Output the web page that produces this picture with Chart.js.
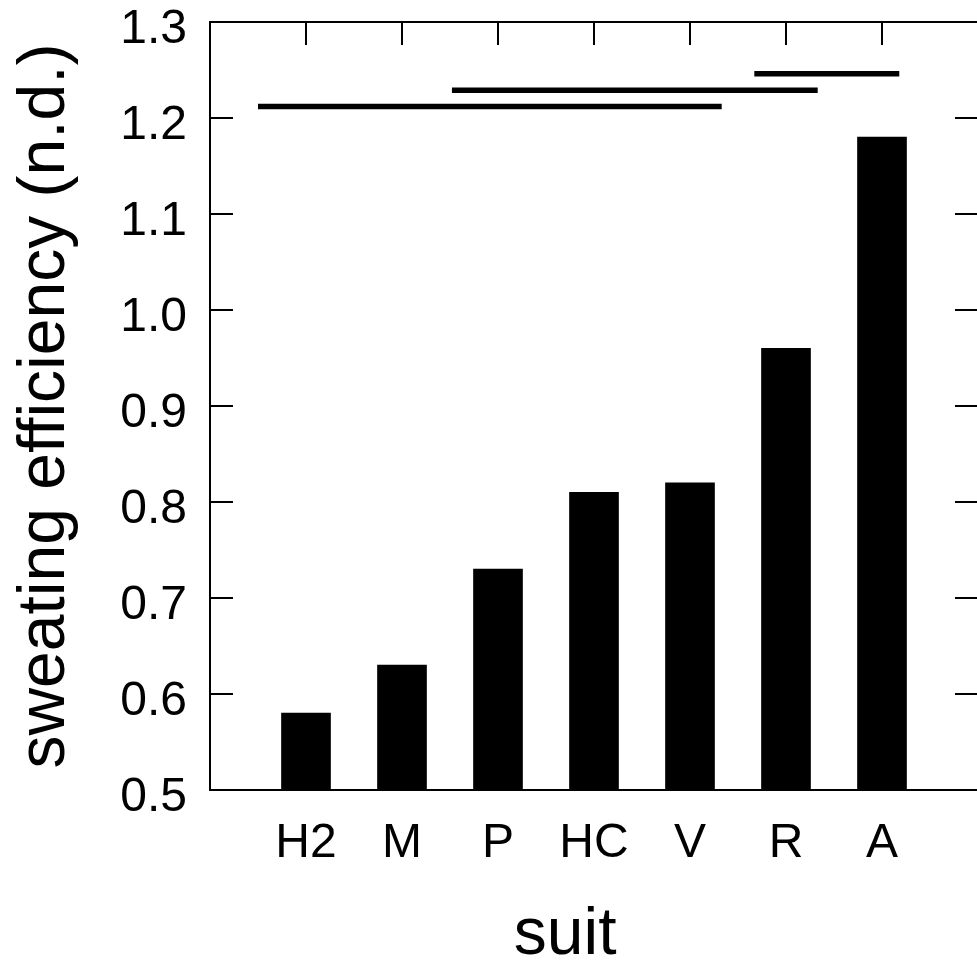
<!DOCTYPE html>
<html>
<head>
<meta charset="utf-8">
<script src="https://cdn.jsdelivr.net/npm/chart.js@4"></script>
<style>
  html, body { margin: 0; padding: 0; background: #fff; overflow: hidden; }
  #wrap { width: 1000px; height: 967px; }
</style>
</head>
<body>
<div id="wrap"><canvas id="myChart" width="1000" height="967"></canvas></div>
<script>
// datos
const categories = ['H2', 'M', 'P', 'HC', 'V', 'R', 'A'];
const efficiency = [0.58, 0.63, 0.73, 0.81, 0.82, 0.96, 1.18];
const yTicks = [0.5, 0.6, 0.7, 0.8, 0.9, 1.0, 1.1, 1.2, 1.3];

// barras de significancia (posicion en unidades de categoria)
const sigStart = [0.5, 2.52, 5.67];
const sigEnd = [5.33, 6.33, 7.18];
const sigLevel = [1.212, 1.229, 1.246];

const font = 'Liberation Sans, Arial, Helvetica, sans-serif';
const xTitle = 'suit';

// marco, ticks hacia adentro y titulo del eje x
const framePlugin = {
  id: 'frame',
  afterDraw(chart) {
    const ctx = chart.ctx;
    const a = chart.chartArea;
    const x = chart.scales.x;
    const y = chart.scales.y;
    const len = 23;
    ctx.save();
    ctx.strokeStyle = '#000';
    ctx.lineWidth = 2;
    ctx.strokeRect(a.left, a.top, a.right - a.left, a.bottom - a.top);
    ctx.beginPath();
    yTicks.forEach(v => {
      const py = y.getPixelForValue(v);
      ctx.moveTo(a.left, py);
      ctx.lineTo(a.left + len, py);
      ctx.moveTo(a.right, py);
      ctx.lineTo(a.right - len, py);
    });
    categories.forEach((c, i) => {
      const px = x.getPixelForValue(i + 1);
      ctx.moveTo(px, a.top);
      ctx.lineTo(px, a.top + len);
    });
    ctx.stroke();

    // el titulo del eje x esta corrido a la izquierda en el original
    ctx.fillStyle = '#000';
    ctx.font = '66px ' + font;
    ctx.textAlign = 'center';
    ctx.textBaseline = 'alphabetic';
    ctx.fillText(xTitle, x.getPixelForValue(3.7), 954);
    ctx.restore();
  }
};

const datasets = [{
  type: 'bar',
  data: categories.map((c, i) => ({ x: i + 1, y: efficiency[i] })),
  backgroundColor: '#000',
  borderWidth: 0,
  barThickness: 49
}];

sigLevel.forEach((lvl, i) => {
  datasets.push({
    type: 'line',
    data: [{ x: sigStart[i], y: lvl }, { x: sigEnd[i], y: lvl }],
    borderColor: '#000',
    borderWidth: 5.5,
    borderCapStyle: 'butt',
    pointRadius: 0
  });
});

new Chart(document.getElementById('myChart'), {
  type: 'bar',
  data: { datasets: datasets },
  plugins: [framePlugin],
  options: {
    responsive: false,
    animation: false,
    devicePixelRatio: 1,
    layout: { padding: { top: 22, right: 22, left: 0, bottom: 0 } },
    plugins: { legend: { display: false }, tooltip: { enabled: false } },
    scales: {
      x: {
        type: 'linear',
        min: 0,
        max: 8,
        offset: false,
        grid: { display: false },
        border: { display: false },
        afterBuildTicks: s => { s.ticks = categories.map((c, i) => ({ value: i + 1 })); },
        afterFit: s => {
          s.height = 177;
          s.paddingLeft = 0;
          s.paddingRight = 0;
        },
        ticks: {
          autoSkip: false,
          maxRotation: 0,
          padding: 17,
          color: '#000',
          font: { family: font, size: 48 },
          callback: v => categories[v - 1] || ''
        }
      },
      y: {
        min: 0.5,
        max: 1.3,
        grid: { display: false },
        border: { display: false },
        afterBuildTicks: s => { s.ticks = yTicks.map(v => ({ value: v })); },
        afterFit: s => {
          s.width = 210;
          s.paddingTop = 0;
          s.paddingBottom = 0;
        },
        ticks: {
          padding: 15,
          labelOffset: 8,
          color: '#000',
          font: { family: font, size: 48 },
          callback: v => v.toFixed(1)
        },
        title: {
          display: true,
          text: 'sweating efficiency (n.d.)',
          color: '#000',
          font: { family: font, size: 66, lineHeight: 1 },
          padding: { top: 13, bottom: 0 }
        }
      }
    }
  }
});
</script>
</body>
</html>
